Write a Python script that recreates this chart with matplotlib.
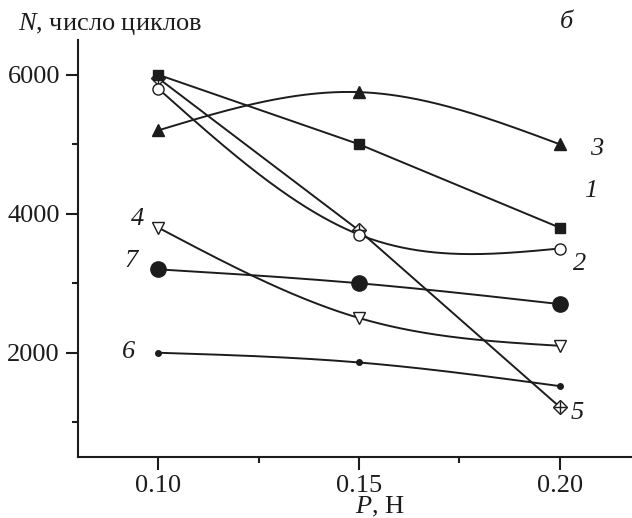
import numpy as np
import matplotlib
matplotlib.use("Agg")
from matplotlib import pyplot as plt
from matplotlib.ticker import MultipleLocator

plt.rcParams['font.family'] = ['Liberation Serif', 'DejaVu Serif']
plt.rcParams['mathtext.fontset'] = 'custom'
plt.rcParams['mathtext.rm'] = 'Liberation Serif'
plt.rcParams['mathtext.it'] = 'Liberation Serif:italic'

# load, N
P = [0.10, 0.15, 0.20]
n1 = [6000, 5000, 3800]
n2 = [5800, 3700, 3500]
n3 = [5200, 5750, 5000]
n4 = [3800, 2500, 2100]
n5 = [5950, 3760, 1220]
n6 = [2000, 1860, 1520]
n7 = [3200, 3000, 2700]

x_ticks = [0.10, 0.15, 0.20]
x_labels = ['0.10', '0.15', '0.20']
y_ticks = [2000, 4000, 6000]

ink = '#1c1c1c'
lw = 1.4

fig = plt.figure(figsize=(6.32, 5.18), dpi=100)
ax = fig.add_axes([78 / 632, 1 - 457 / 518, 1 - 78 / 632, (457 - 40) / 518])


def spline(x, y, num=200):
    # natural cubic spline through the points
    x = np.asarray(x, float)
    y = np.asarray(y, float)
    n = len(x)
    h = np.diff(x)
    A = np.zeros((n, n))
    b = np.zeros(n)
    A[0, 0] = A[-1, -1] = 1
    for i in range(1, n - 1):
        A[i, i - 1] = h[i - 1]
        A[i, i] = 2 * (h[i - 1] + h[i])
        A[i, i + 1] = h[i]
        b[i] = 6 * ((y[i + 1] - y[i]) / h[i] - (y[i] - y[i - 1]) / h[i - 1])
    M = np.linalg.solve(A, b)
    xs = np.linspace(x[0], x[-1], num)
    k = np.clip(np.searchsorted(x, xs) - 1, 0, n - 2)
    a = x[k + 1] - xs
    c = xs - x[k]
    hk = h[k]
    ys = (M[k] * a ** 3 + M[k + 1] * c ** 3) / (6 * hk) \
        + (y[k] - M[k] * hk ** 2 / 6) * a / hk \
        + (y[k + 1] - M[k + 1] * hk ** 2 / 6) * c / hk
    return xs, ys


# curves
ax.plot(P, n1, color=ink, lw=lw)
ax.plot(*spline(P, n2), color=ink, lw=lw)
ax.plot(*spline(P, n3), color=ink, lw=lw)
ax.plot(*spline(P, n4), color=ink, lw=lw)
ax.plot(P, n5, color=ink, lw=lw)
ax.plot(*spline(P, n6), color=ink, lw=lw)
ax.plot(*spline(P, n7), color=ink, lw=lw)

# markers
ax.plot(P, n5, ls='none', marker='D', ms=7, mfc='white', mec=ink, mew=1.0)
ax.plot(P, n5, ls='none', marker='+', ms=9, mec=ink, mew=1.0)
ax.plot(P, n1, ls='none', marker='s', ms=7, mfc=ink, mec=ink)
ax.plot(P, n2, ls='none', marker='o', ms=8, mfc='white', mec=ink, mew=1.0)
ax.plot(P, n3, ls='none', marker='^', ms=9, mfc=ink, mec=ink)
ax.plot(P, n4, ls='none', marker='v', ms=9, mfc='white', mec=ink, mew=1.0)
ax.plot(P, n6, ls='none', marker='o', ms=4, mfc=ink, mec=ink)
ax.plot(P, n7, ls='none', marker='o', ms=11, mfc=ink, mec=ink)

# curve numbers
labels = [('1', P[2], n1[2], 31, 37),
          ('2', P[2], n2[2], 20, -15),
          ('3', P[2], n3[2], 37, -5),
          ('4', P[0], n4[0], -21, 9),
          ('5', P[2], n5[2], 17, -6),
          ('6', P[0], n6[0], -30, 1),
          ('7', P[0], n7[0], -27, 8)]
for t, x, y, dx, dy in labels:
    ax.annotate(t, (x, y), xytext=(dx, dy), textcoords='offset pixels',
                ha='center', va='center', fontsize=19, style='italic', color=ink)

ax.set_xlim(0.08, 0.218)
ax.set_ylim(500, 6500)
ax.set_xticks(x_ticks)
ax.set_xticklabels(x_labels)
ax.xaxis.set_minor_locator(MultipleLocator(0.025))
ax.set_yticks(y_ticks)
ax.yaxis.set_minor_locator(MultipleLocator(1000))

for s in ['top', 'right']:
    ax.spines[s].set_visible(False)
for s in ['left', 'bottom']:
    ax.spines[s].set_linewidth(1.5)
    ax.spines[s].set_color(ink)

ax.tick_params(which='major', length=9, width=1.5, color=ink, labelsize=19, labelcolor=ink)
ax.tick_params(which='minor', length=4.5, width=1.5, color=ink)
ax.tick_params(axis='y', pad=4)
ax.tick_params(axis='x', pad=4)

fig.text(18 / 632, 1 - 24 / 518, r'$N$, число циклов', fontsize=19, ha='left', va='center', color=ink)
fig.text(566 / 632, 1 - 22 / 518, 'б', fontsize=19, style='italic', ha='center', va='center', color=ink)
fig.text(380 / 632, 1 - 507 / 518, r'$P$, Н', fontsize=19, ha='center', va='center', color=ink)

fig.savefig('out.png', dpi=100)
